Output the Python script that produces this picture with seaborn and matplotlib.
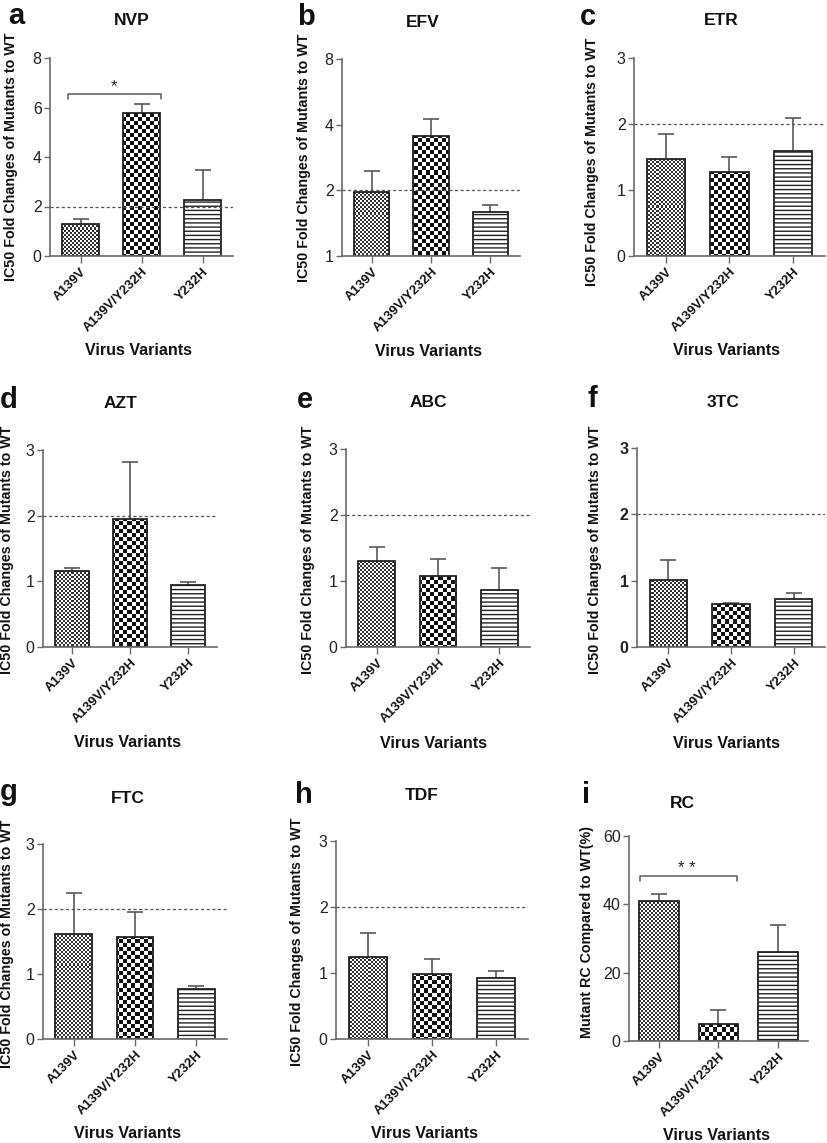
import numpy as np
import pandas as pd
import matplotlib
matplotlib.use("Agg")
import matplotlib.pyplot as plt
import matplotlib.transforms as mtransforms
from matplotlib.colors import ListedColormap
import seaborn as sns

sns.set_theme(style="ticks")
plt.rcParams['font.family'] = ['Liberation Sans', 'DejaVu Sans']
plt.rcParams['hatch.linewidth'] = 1.0

# ---------------- data ----------------
variants = ['A139V', 'A139V/Y232H', 'Y232H']

nvp_mean = [1.31, 5.78, 2.28]
nvp_upper = [1.51, 6.13, 3.47]
efv_mean = [1.97, 3.56, 1.59]
efv_upper = [2.44, 4.26, 1.71]
etr_mean = [1.47, 1.27, 1.59]
etr_upper = [1.85, 1.50, 2.09]
azt_mean = [1.15, 1.95, 0.94]
azt_upper = [1.20, 2.82, 0.99]
abc_mean = [1.30, 1.08, 0.87]
abc_upper = [1.51, 1.33, 1.20]
tc3_mean = [1.01, 0.65, 0.73]
tc3_upper = [1.31, 0.66, 0.82]
ftc_mean = [1.62, 1.57, 0.77]
ftc_upper = [2.25, 1.95, 0.81]
tdf_mean = [1.25, 0.99, 0.92]
tdf_upper = [1.60, 1.21, 1.03]
rc_mean = [40.9, 5.0, 26.0]
rc_upper = [43.0, 9.0, 34.0]

fold_ticks = [0, 1, 2, 3]
nvp_ticks = [0, 2, 4, 6, 8]
efv_ticks = [1, 2, 4, 8]
rc_ticks = [0, 20, 40, 60]

ic50_label = 'IC50 Fold Changes of Mutants to WT'
rc_label = 'Mutant RC Compared to WT(%)'

# ---------------- layout ----------------
W, H = 828, 1143
fig = plt.figure(figsize=(W / 100, H / 100), dpi=100)

def rect(l, t, r, b):
    return [l / W, 1 - b / H, (r - l) / W, (b - t) / H]

def ftxt(x, y, s, **kw):
    fig.text(x / W, 1 - y / H, s, **kw)

def checker(h, w, s):
    i = np.arange(h)[:, None]
    j = np.arange(w)[None, :]
    return ((i // s + j // s) % 2).astype(float)

AX_GRAY = '#6a6a6a'
ERR_GRAY = '#5a5a5a'

panels = [
    dict(letter='a', title='NVP', mean=nvp_mean, upper=nvp_upper, ylim=(0, 8), ticks=nvp_ticks,
         log=False, ylabel=ic50_label, box=(50, 58, 233, 256), lp=(8, 24), tp=(132, 25),
         yl=(11, 157), xl=(139, 355), thr=2, bracket=(-0.2, 1.32, 6.53, 6.35, '*', 0.55)),
    dict(letter='b', title='EFV', mean=efv_mean, upper=efv_upper, ylim=(1, 8), ticks=efv_ticks,
         log=True, ylabel=ic50_label, box=(342, 59, 520, 256), lp=(297, 25), tp=(423, 27),
         yl=(304, 158), xl=(429, 356), thr=2, bracket=None),
    dict(letter='c', title='ETR', mean=etr_mean, upper=etr_upper, ylim=(0, 3), ticks=fold_ticks,
         log=False, ylabel=ic50_label, box=(634, 58, 825, 256), lp=(580, 25), tp=(721, 25),
         yl=(592, 162), xl=(727, 355), thr=2, bracket=None),
    dict(letter='d', title='AZT', mean=azt_mean, upper=azt_upper, ylim=(0, 3), ticks=fold_ticks,
         log=False, ylabel=ic50_label, box=(43, 450, 217, 647), lp=(0, 408), tp=(121, 408),
         yl=(7, 550), xl=(128, 747), thr=2, bracket=None),
    dict(letter='e', title='ABC', mean=abc_mean, upper=abc_upper, ylim=(0, 3), ticks=fold_ticks,
         log=False, ylabel=ic50_label, box=(346, 449, 530, 647), lp=(297, 408), tp=(428, 407),
         yl=(308, 550), xl=(434, 748), thr=2, bracket=None),
    dict(letter='f', title='3TC', mean=tc3_mean, upper=tc3_upper, ylim=(0, 3), ticks=fold_ticks,
         log=False, ylabel=ic50_label, box=(637, 448, 825, 647), lp=(588, 407), tp=(723, 407),
         yl=(595, 550), xl=(727, 748), thr=2, bracket=None, boldticks=True),
    dict(letter='g', title='FTC', mean=ftc_mean, upper=ftc_upper, ylim=(0, 3), ticks=fold_ticks,
         log=False, ylabel=ic50_label, box=(43, 844, 227, 1039), lp=(0, 800), tp=(128, 803),
         yl=(7, 944), xl=(128, 1138), thr=2, bracket=None),
    dict(letter='h', title='TDF', mean=tdf_mean, upper=tdf_upper, ylim=(0, 3), ticks=fold_ticks,
         log=False, ylabel=ic50_label, box=(336, 841, 528, 1039), lp=(295, 803), tp=(422, 800),
         yl=(297, 942), xl=(425, 1138), thr=2, bracket=None),
    dict(letter='i', title='RC', mean=rc_mean, upper=rc_upper, ylim=(0, 60), ticks=rc_ticks,
         log=False, ylabel=rc_label, box=(629, 836, 808, 1041), lp=(582, 803), tp=(682, 808),
         yl=(587, 932), xl=(717, 1140), thr=None, bracket=(-0.32, 1.31, 48.3, 46.9, '* *', 0.47),
         width=0.66),
]

for p in panels:
    l, t, r, b = p['box']
    ax = fig.add_axes(rect(l, t, r, b))
    wpx, hpx = r - l, b - t
    df = pd.DataFrame({'Variant': variants, 'Value': p['mean']})
    sns.barplot(data=df, x='Variant', y='Value', ax=ax, color='white', saturation=1,
                edgecolor='#222222', linewidth=1.3, width=p.get('width', 0.6),
                errorbar=None, zorder=2)
    bars = list(ax.patches)
    if p['log']:
        ax.set_yscale('log', base=2)
        for bar in bars:
            h = bar.get_height()
            bar.set_y(p['ylim'][0])
            bar.set_height(h - p['ylim'][0])

    # patterns: fine checker, coarse checker, horizontal lines
    for bar, s in zip(bars[:2], [2, 4]):
        arr = checker(hpx, wpx, s)
        cmap = ListedColormap(['white', '#303030' if s == 2 else '#111111'])
        im = ax.imshow(arr, cmap=cmap, vmin=0, vmax=1, extent=(0, 1, 0, 1),
                       transform=ax.transAxes, interpolation='nearest', aspect='auto',
                       zorder=1.9)
        im.set_clip_path(bar)
        bar.set_facecolor('none')
    bars[2].set_hatch('----')

    # error bars (upper only)
    x = np.arange(len(variants))
    up = np.array(p['upper']) - np.array(p['mean'])
    eb = ax.errorbar(x, p['mean'], yerr=[np.zeros_like(up), up], fmt='none',
                     ecolor=ERR_GRAY, elinewidth=1.2, capsize=6, capthick=1.2, zorder=1.5)
    caps = eb[1]
    if len(caps) >= 2:
        caps[0].set_visible(False)

    if p['thr'] is not None:
        ax.axhline(p['thr'], color='#555555', lw=0.9, ls=(0, (2.5, 2)), zorder=3)

    if p['bracket'] is not None:
        x0, x1, yb, yt, star, xs = p['bracket']
        ax.plot([x0, x0, x1, x1], [yt, yb, yb, yt], color=ERR_GRAY, lw=1.1, clip_on=False)
        ax.text(xs, yb, star, ha='center', va='bottom', fontsize=12, color='#222222')

    ax.set_xlim(-0.5, 2.5)
    ax.set_ylim(*p['ylim'])
    ax.set_yticks(p['ticks'])
    ax.set_yticklabels([str(v) for v in p['ticks']],
                       fontweight='bold' if p.get('boldticks') else 'normal')
    ax.minorticks_off()
    ax.set_xticks(x)
    ax.set_xticklabels(variants, rotation=45, ha='right', va='top', rotation_mode='anchor',
                       fontweight='bold', fontsize=9.5, color='#111111')
    shift = mtransforms.ScaledTranslation(-3 / 100, 0, fig.dpi_scale_trans)
    for lab in ax.get_xticklabels():
        lab.set_transform(lab.get_transform() + shift)
    ax.set_xlabel('')
    ax.set_ylabel('')
    ax.tick_params(axis='y', labelsize=11.5, length=4, width=1, color=AX_GRAY,
                   labelcolor='#222222', pad=2)
    ax.tick_params(axis='x', length=5, width=1, color=AX_GRAY, pad=2)
    for side in ['top', 'right']:
        ax.spines[side].set_visible(False)
    for side in ['left', 'bottom']:
        ax.spines[side].set_color(AX_GRAY)
        ax.spines[side].set_linewidth(1.2)
    ax.set_facecolor('none')

    ftxt(p['lp'][0], p['lp'][1], p['letter'], fontsize=21, fontweight='bold',
         ha='left', va='baseline', color='#111111')
    ftxt(p['tp'][0], p['tp'][1], p['title'], fontsize=12.5, fontweight='bold',
         ha='center', va='baseline', color='#111111')
    ftxt(p['yl'][0], p['yl'][1], p['ylabel'], fontsize=10.3, fontweight='bold',
         rotation=90, ha='center', va='center', color='#111111')
    ftxt(p['xl'][0], p['xl'][1], 'Virus Variants', fontsize=11.5, fontweight='bold',
         ha='center', va='baseline', color='#111111')

fig.savefig('out.png', dpi=100, facecolor='white')
